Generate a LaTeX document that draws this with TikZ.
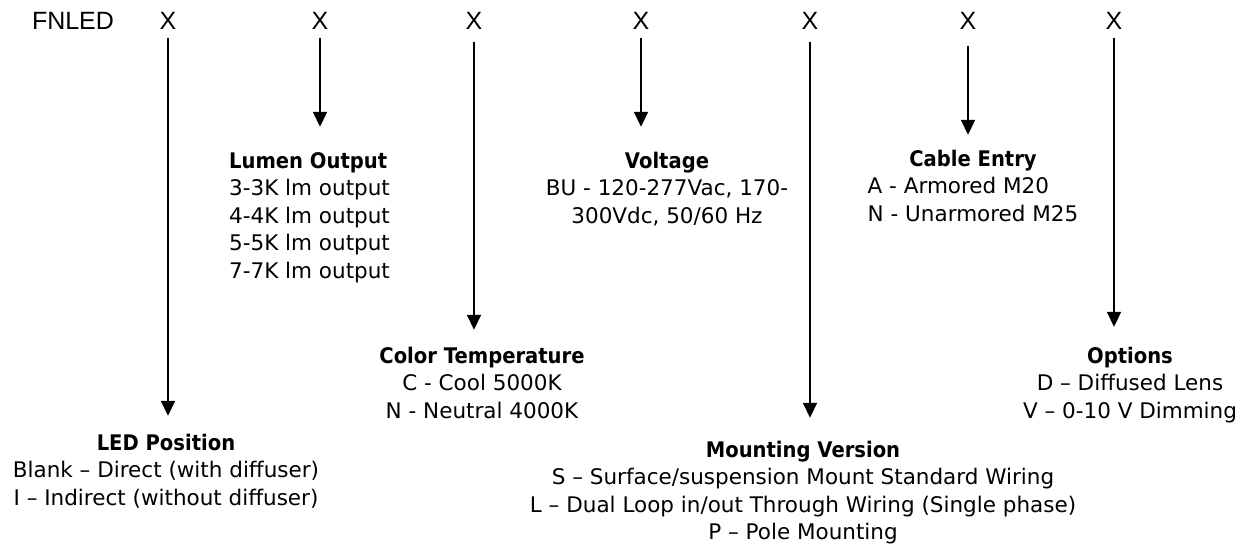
\documentclass[tikz,border=0pt]{standalone}
\usepackage{fontspec}
\setmainfont{DejaVu Sans}
\newfontfamily\headfont{Liberation Sans}
\newfontfamily\titlefont{DejaVu Sans}[FakeStretch=0.91]
\usetikzlibrary{positioning,arrows.meta}

\begin{document}
\begin{tikzpicture}[x=1pt, y=-1pt,
	xhead/.style = { font=\headfont\fontsize{25}{28}\selectfont,
			inner sep=4pt, outer sep=4pt, anchor=base },
	heading/.style = { font=\titlefont\bfseries\fontsize{21.5}{27.5}\selectfont,
			inner sep=0pt, text height=16pt, anchor=base },
	items/.style = { font=\fontsize{21.5}{27.5}\selectfont,
			inner sep=0pt, align=center },
	arr/.style = { -{Triangle[width=14pt,length=15pt]}, line width=1.8pt }]

  \useasboundingbox (0,0) rectangle (1241,546);

  % code letters
  \node[xhead, anchor=base west, inner sep=0pt] (fnled) at (28,29.5) {FNLED};
  \node[xhead] (x1) at (168,29.5) {X};
  \node[xhead] (x2) at (320,29.5) {X};
  \node[xhead] (x3) at (474,29.5) {X};
  \node[xhead] (x4) at (641,29.5) {X};
  \node[xhead] (x5) at (810,29.5) {X};
  \node[xhead] (x6) at (968,29.5) {X};
  \node[xhead] (x7) at (1114,29.5) {X};

  % option blocks
  \node[heading] (led) at (166,450) {LED Position};
  \node[items, below=11.2pt of led.base] (ledlist)
    {Blank – Direct (with diffuser)\\I – Indirect (without diffuser)};

  \node[heading, anchor=base west] (lumen) at (229,168) {Lumen Output};
  \node[items, align=left, below=11.2pt of lumen.base west, anchor=north west] (lumenlist)
    {3-3K lm output\\4-4K lm output\\5-5K lm output\\7-7K lm output};

  \node[heading] (color) at (482,363) {Color Temperature};
  \node[items, below=11.2pt of color.base] (colorlist)
    {C - Cool 5000K\\N - Neutral 4000K};

  \node[heading] (volt) at (667,168) {Voltage};
  \node[items, below=11.8pt of volt.base] (voltlist)
    {BU - 120-277Vac, 170-\\300Vdc, 50/60 Hz};

  \node[heading] (mount) at (803,457) {Mounting Version};
  \node[items, below=11.2pt of mount.base] (mountlist)
    {S – Surface/suspension Mount Standard Wiring\\
     L – Dual Loop in/out Through Wiring (Single phase)\\
     P – Pole Mounting};

  \node[heading] (cable) at (973,166) {Cable Entry};
  \node[items, align=left, below=11.2pt of cable.base] (cablelist)
    {A - Armored M20\\N - Unarmored M25};

  \node[heading] (opts) at (1130,363) {Options};
  \node[items, below=11.2pt of opts.base] (optslist)
    {D – Diffused Lens\\V – 0-10 V Dimming};

  % arrows
  \draw[arr, shorten >=18pt] (x1) -- (x1 |- led.north);
  \draw[arr, shorten >=25pt] (x2) -- (x2 |- lumen.north);
  \draw[arr, shorten <=4.5pt, shorten >=17pt] (x3) -- (x3 |- color.north);
  \draw[arr, shorten >=25pt] (x4) -- (x4 |- volt.north);
  \draw[arr, shorten <=4.5pt, shorten >=23pt] (x5) -- (x5 |- mount.north);
  \draw[arr, shorten <=8.5pt, shorten >=15pt] (x6) -- (x6 |- cable.north);
  \draw[arr, shorten >=20pt] (x7) -- (x7 |- opts.north);
\end{tikzpicture}
\end{document}
